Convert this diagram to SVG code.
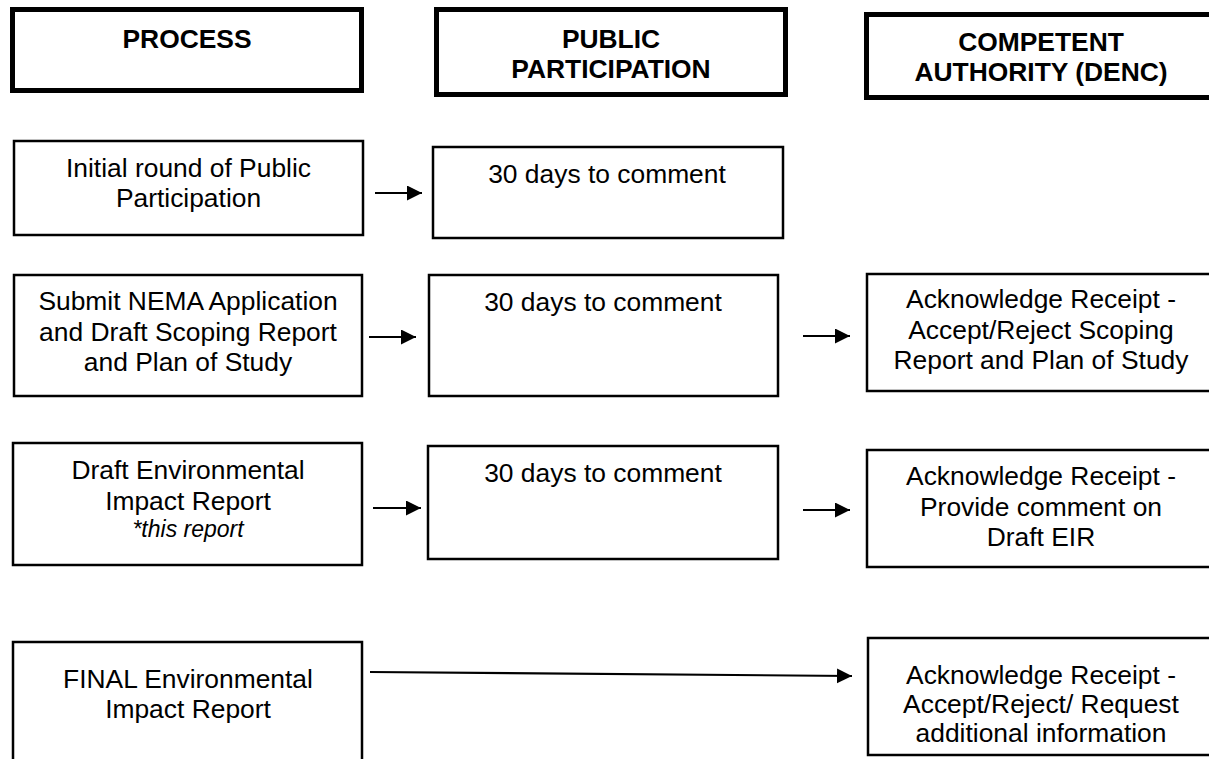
<svg xmlns="http://www.w3.org/2000/svg" width="1209" height="759" viewBox="0 0 1209 759">
<style>
.hdr{fill:#fff;stroke:#000;stroke-width:5}
.box{fill:#fff;stroke:#000;stroke-width:2.5}
text{font-family:"Liberation Sans",Arial,sans-serif;font-size:26.4px;fill:#000;text-anchor:middle}
.b{font-weight:bold}
.it{font-style:italic;font-size:23px}
.con{stroke:#000;stroke-width:2.2;fill:none}
</style>
<defs>
<marker id="ah" markerUnits="userSpaceOnUse" markerWidth="16" markerHeight="16" refX="15" refY="7.5" orient="auto">
<path d="M0,0 L15,7.5 L0,15 z" fill="#000"/>
</marker>
</defs>
<rect width="1209" height="759" fill="#fff"/>
<g id="hdr-process"><rect class="hdr" x="12.5" y="9.5" width="349" height="81"/><text class="b" x="187" y="48">PROCESS</text></g>
<g id="hdr-public"><rect class="hdr" x="436.5" y="9.5" width="349" height="85"/><text class="b" x="611" y="48">PUBLIC</text><text class="b" x="611" y="78">PARTICIPATION</text></g>
<g id="hdr-authority"><rect class="hdr" x="866.5" y="14.5" width="355" height="83"/><text class="b" x="1041" y="51">COMPETENT</text><text class="b" x="1041" y="81">AUTHORITY (DENC)</text></g>

<g id="a1"><rect class="box" x="14" y="141" width="349" height="94"/><text x="188.5" y="177">Initial round of Public</text><text x="188.5" y="207">Participation</text></g>
<g id="b1"><rect class="box" x="433" y="147" width="350" height="91"/><text x="607" y="183">30 days to comment</text></g>

<g id="a2"><rect class="box" x="14" y="275" width="348" height="121"/><text x="188" y="310">Submit NEMA Application</text><text x="188" y="340.5">and Draft Scoping Report</text><text x="188" y="371">and Plan of Study</text></g>
<g id="b2"><rect class="box" x="429" y="275" width="349" height="121"/><text x="603" y="311">30 days to comment</text></g>
<g id="c2"><rect class="box" x="867" y="274" width="350" height="117"/><text x="1041" y="308">Acknowledge Receipt -</text><text x="1041" y="338.5">Accept/Reject Scoping</text><text x="1041" y="369">Report and Plan of Study</text></g>

<g id="a3"><rect class="box" x="13" y="443" width="349" height="122"/><text x="188" y="479">Draft Environmental</text><text x="188" y="510">Impact Report</text><text class="it" x="188" y="537">*this report</text></g>
<g id="b3"><rect class="box" x="428" y="446" width="350" height="113"/><text x="603" y="482">30 days to comment</text></g>
<g id="c3"><rect class="box" x="867" y="450" width="350" height="117"/><text x="1041" y="485">Acknowledge Receipt -</text><text x="1041" y="515.5">Provide comment on</text><text x="1041" y="546">Draft EIR</text></g>

<g id="a4"><rect class="box" x="13" y="642" width="349" height="130"/><text x="188" y="688">FINAL Environmental</text><text x="188" y="718">Impact Report</text></g>
<g id="c4"><rect class="box" x="868" y="638" width="350" height="117"/><text x="1041" y="684">Acknowledge Receipt -</text><text x="1041" y="713">Accept/Reject/ Request</text><text x="1041" y="742">additional information</text></g>

<g id="connectors">
<line class="con" x1="375" y1="193" x2="422" y2="193" marker-end="url(#ah)"/>
<line class="con" x1="369" y1="337" x2="416" y2="337" marker-end="url(#ah)"/>
<line class="con" x1="803" y1="336" x2="850" y2="336" marker-end="url(#ah)"/>
<line class="con" x1="373" y1="508" x2="421" y2="508" marker-end="url(#ah)"/>
<line class="con" x1="803" y1="510" x2="850" y2="510" marker-end="url(#ah)"/>
<line class="con" x1="370" y1="672" x2="852" y2="676" marker-end="url(#ah)"/>
</g>
</svg>
